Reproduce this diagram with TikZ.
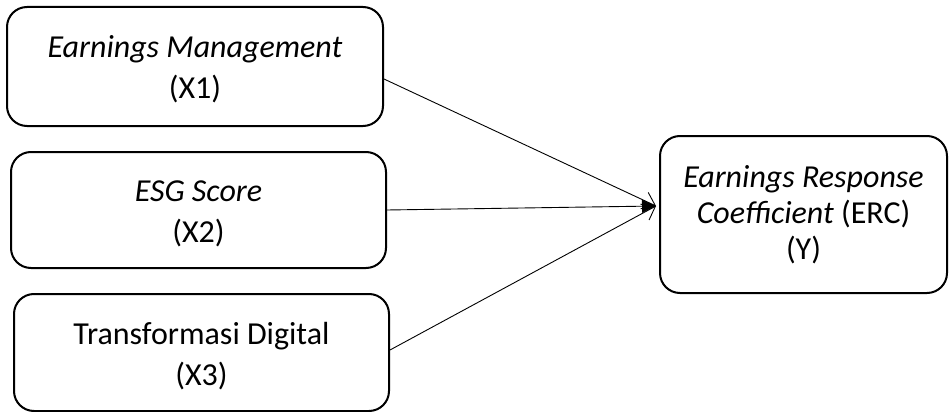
\documentclass[tikz,border=0pt]{standalone}
\usepackage{fontspec}
\setmainfont{Carlito}
\usetikzlibrary{arrows.meta}
\newcommand\mytop[1]{\rule{0pt}{#1}}
\newcommand\mybot[1]{\rule[-#1]{0pt}{#1}}
\tikzset{
  boxnode/.style={draw=black, line width=2pt, rounded corners=20pt, align=center,
    font=\fontsize{32}{41}\selectfont, inner sep=0pt},
  ybox/.style={boxnode, font=\fontsize{32}{36}\selectfont},
  link/.style={line width=0.9pt}
}
\begin{document}
\begin{tikzpicture}[x=1pt,y=-1pt]
\useasboundingbox (0,0) rectangle (951,412);
\node[boxnode, minimum width=376pt, minimum height=119pt] (x1) at (195,66.5)
  {\mytop{34pt}\textit{Earnings Management}\\(X1)\mybot{10pt}};
\node[boxnode, minimum width=375pt, minimum height=116pt] (x2) at (198.5,210)
  {\mytop{34pt}\textit{ESG Score}\\(X2)\mybot{10pt}};
\node[boxnode, minimum width=375pt, minimum height=117pt] (x3) at (201.5,352.5)
  {\mytop{34pt}Transformasi Digital\\(X3)\mybot{10pt}};
\node[ybox, minimum width=287pt, minimum height=157pt] (y) at (803.5,214.5)
  {\mytop{27pt}\textit{Earnings Response}\\\textit{Coefficient} (ERC)\\(Y)\mybot{10pt}};
\coordinate (tip) at ([xshift=-3pt,yshift=8.5pt]y.west);
\draw[link, -{Straight Barb[length=12pt,width=18pt,line width=0.9pt]}] ([yshift=-12.5pt]x1.east) -- (tip);
\draw[link, -{Triangle[length=14pt,width=13pt]}] (x2.east) -- (tip);
\draw[link, -{Straight Barb[length=12pt,width=18pt,line width=0.9pt]}] ([yshift=2.5pt]x3.east) -- (tip);
\end{tikzpicture}
\end{document}
